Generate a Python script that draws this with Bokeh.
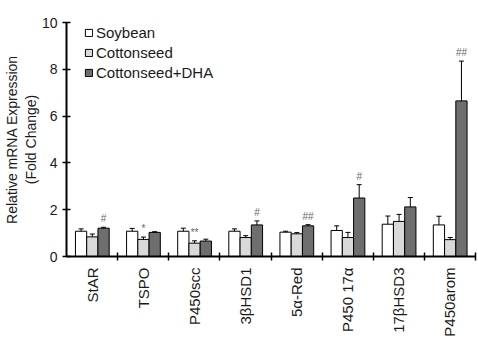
import numpy as np
from bokeh.plotting import figure
from bokeh.models import (Range1d, FixedTicker, ColumnDataSource, Whisker, TeeHead,
                          Legend, LegendItem)
from bokeh.core.properties import value
from bokeh.embed import file_html
from bokeh.resources import INLINE

genes = ["StAR", "TSPO", "P450scc", "3βHSD1", "5α-Red", "P450 17α", "17βHSD3", "P450arom"]
soy = [1.08, 1.08, 1.08, 1.08, 1.04, 1.11, 1.38, 1.35]
soy_err = [0.10, 0.12, 0.13, 0.10, 0.04, 0.20, 0.35, 0.37]
cot = [0.84, 0.73, 0.57, 0.81, 0.97, 0.81, 1.50, 0.72]
cot_err = [0.12, 0.10, 0.10, 0.08, 0.05, 0.22, 0.30, 0.09]
dha = [1.21, 1.03, 0.66, 1.35, 1.31, 2.50, 2.12, 6.65]
dha_err = [0.04, 0.03, 0.08, 0.17, 0.05, 0.57, 0.40, 1.70]
sig_soy = ["", "", "", "", "", "", "", ""]
sig_cot = ["", "*", "**", "", "", "", "", ""]
sig_dha = ["#", "", "", "#", "##", "#", "", "##"]
series = ["Soybean", "Cottonseed", "Cottonseed+DHA"]
colors = ["#ffffff", "#d9d9d9", "#6e6e6e"]
y_ticks = [0, 2, 4, 6, 8, 10]

FONT = "Liberation Sans"
TXT = "#1a1a1a"

p = figure(width=478, height=341, output_backend="svg", toolbar_location=None,
           x_range=Range1d(0, len(genes)), y_range=Range1d(0, 10),
           min_border_left=64, min_border_right=3, min_border_top=22, min_border_bottom=85)
p.outline_line_color = None
p.xgrid.visible = False
p.ygrid.visible = False
p.background_fill_color = "white"

centers = [i + 0.5 for i in range(len(genes))]
bw = 0.22
offsets = [-bw, 0.0, bw]
vals = [soy, cot, dha]
errs = [soy_err, cot_err, dha_err]
sigs = [sig_soy, sig_cot, sig_dha]
renderers = []
for k in range(3):
    xs = [c + offsets[k] + 0.005 for c in centers]
    up = [v + e for v, e in zip(vals[k], errs[k])]
    lo = [v - e for v, e in zip(vals[k], errs[k])]
    src = ColumnDataSource(dict(x=xs, top=vals[k], upper=up, lower=lo, sig=sigs[k]))
    r = p.vbar(x="x", top="top", width=bw, source=src, fill_color=colors[k],
               line_color="black", line_width=1)
    renderers.append(r)
    w = Whisker(source=src, base="x", upper="upper", lower="lower", dimension="height",
                line_color="black", line_width=1,
                upper_head=TeeHead(size=5, line_color="black", line_width=1),
                lower_head=TeeHead(size=5, line_color="black", line_width=1))
    p.add_layout(w)
    p.text(x="x", y="upper", text="sig", source=src, text_font=value(FONT),
           text_font_size="10px", text_align="center", text_baseline="bottom",
           y_offset=-3, text_color="#666666")

# x axis
p.xaxis.ticker = FixedTicker(ticks=centers, minor_ticks=list(range(1, len(genes) + 1)))
p.xaxis.major_label_overrides = {c: g for c, g in zip(centers, genes)}
p.xaxis.major_label_orientation = np.pi / 2
p.xaxis.major_tick_in = 0
p.xaxis.major_tick_out = 0
p.xaxis.minor_tick_in = 4
p.xaxis.minor_tick_out = 4
p.xaxis.minor_tick_line_color = "black"
p.xaxis.minor_tick_line_width = 1.5
p.xaxis.axis_line_width = 2
p.xaxis.axis_line_color = "black"
p.xaxis.major_label_standoff = 7
p.xaxis.major_label_text_font = FONT
p.xaxis.major_label_text_font_size = "15px"
p.xaxis.major_label_text_color = TXT

# y axis
p.yaxis.ticker = FixedTicker(ticks=y_ticks, minor_ticks=[])
p.yaxis.major_tick_in = 4
p.yaxis.major_tick_out = 4
p.yaxis.major_tick_line_width = 1.5
p.yaxis.major_tick_line_color = "black"
p.yaxis.axis_line_width = 2
p.yaxis.axis_line_color = "black"
p.yaxis.major_label_standoff = 5
p.yaxis.major_label_text_font = FONT
p.yaxis.major_label_text_font_size = "14px"
p.yaxis.major_label_text_color = TXT
p.yaxis.axis_label = "Relative mRNA Expression\n(Fold Change)"
p.yaxis.axis_label_text_font = FONT
p.yaxis.axis_label_text_font_size = "14px"
p.yaxis.axis_label_text_font_style = "normal"
p.yaxis.axis_label_text_color = TXT
p.yaxis.axis_label_standoff = 0

legend = Legend(items=[LegendItem(label=s, renderers=[r]) for s, r in zip(series, renderers)],
                location=(18, 174))
legend.margin = 0
legend.padding = 0
legend.spacing = 0
legend.border_line_color = None
legend.background_fill_alpha = 0
legend.glyph_width = 9
legend.glyph_height = 9
legend.label_height = 20
legend.label_standoff = 3
legend.label_text_font = FONT
legend.label_text_font_size = "15px"
legend.label_text_color = TXT
p.add_layout(legend)

open("out.html", "w").write(file_html(p, INLINE))
